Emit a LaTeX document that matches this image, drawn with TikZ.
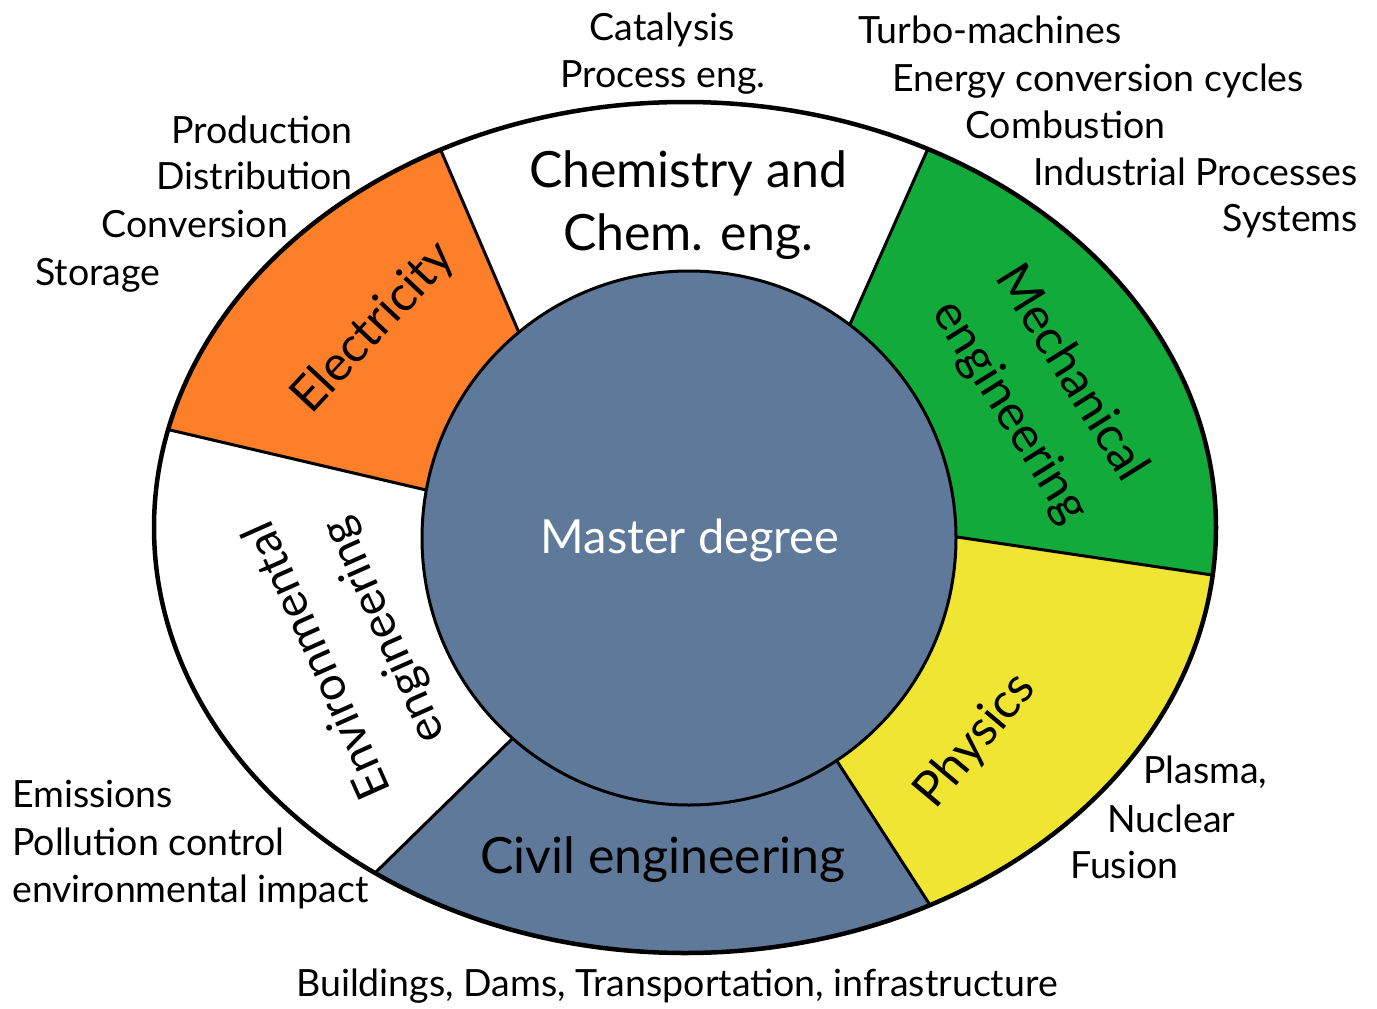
\documentclass[tikz,border=0pt]{standalone}
\usepackage{fontspec}
\setmainfont{Lato}
\usetikzlibrary{calc}
\definecolor{elec}{RGB}{254,127,42}
\definecolor{mech}{RGB}{18,170,58}
\definecolor{phys}{RGB}{241,229,52}
\definecolor{slate}{RGB}{94,121,153}
\tikzset{
  small/.style={font=\fontsize{37.5}{45}\selectfont, inner sep=0pt},
  big/.style={font=\fontsize{50}{63}\selectfont, inner sep=0pt},
  ring/.style={font=\fontsize{49}{72}\selectfont, inner sep=0pt, align=center},
  segline/.style={line width=3pt},
}
\begin{document}
\begin{tikzpicture}[x=1pt,y=-1pt]
\useasboundingbox (0,0) rectangle (1377,1009);
\coordinate (C) at (689,538);
\coordinate (E) at (685,527.5);
% boundary points: inner (on circle) and outer (on ellipse)
\coordinate (A1) at (517,328); \coordinate (B1) at (442,153);
\coordinate (A2) at (851,322); \coordinate (B2) at (926,153);
\coordinate (A3) at (957,537); \coordinate (B3) at (1212,575);
\coordinate (A4) at (835,758); \coordinate (B4) at (930,905);
\coordinate (A5) at (513,738); \coordinate (B5) at (376,872);
\coordinate (A6) at (426,490); \coordinate (B6) at (170,430);
\foreach \i in {1,...,6}{
  \coordinate (X\i) at ($(A\i)!1.6!(B\i)$);
  \coordinate (I\i) at ($(B\i)!1.1!(A\i)$);
}
\fill[white] (E) ellipse [x radius=531, y radius=425.5];
\begin{scope}
  \clip (E) ellipse [x radius=531, y radius=425.5];
  \fill[elec] (C) -- (A1) -- (X1) -- (150,60) -- (X6) -- (A6) -- cycle;
  \fill[mech] (C) -- (A2) -- (X2) -- (1300,60) -- (X3) -- (A3) -- cycle;
  \fill[phys] (C) -- (A3) -- (X3) -- (1360,1000) -- (X4) -- (A4) -- cycle;
  \fill[slate] (C) -- (A4) -- (X4) -- (990,1080) -- (290,1080) -- (X5) -- (A5) -- cycle;
  \foreach \i in {1,...,6}{
    \draw[segline] (I\i) -- (X\i);
  }
\end{scope}
\draw[line width=3pt, fill=slate] (C) circle [radius=267];
\draw[line width=4.5pt] (E) ellipse [x radius=531, y radius=425.5];

% ring labels
\node[big, anchor=base] (chem1) at (688,187) {Chemistry and};
\node[big, anchor=base] (chem2) at (688,250) {Chem. eng.};
\node[ring, rotate=47] (elecl) at (374,328) {Electricity};
\node[ring, rotate=-58] (mechl) at (1040,393) {Mechanical\\engineering};
\node[ring, rotate=50] (physl) at (976,741) {Physics};
\node[ring, rotate=114, font=\fontsize{47}{72}\selectfont] (envl) at (352,645) {Environmental\\engineering};
\node[big, anchor=base] (civl) at (663,873) {Civil engineering};
\node[font=\fontsize{47}{56}\selectfont, inner sep=0pt, anchor=base, text=white] (master) at (690,553) {Master degree};

% outer labels
\node[small, anchor=base] (cat) at (662,40) {Catalysis};
\node[small, anchor=base] (proc) at (663,87) {Process eng.};

\node[small, anchor=base west] (turbo) at (858,43) {Turbo-machines};
\node[small, anchor=base west] (ecc) at (892,91) {Energy conversion cycles};
\node[small, anchor=base west] (comb) at (965,138) {Combustion};
\node[small, anchor=base east] (indp) at (1358,185) {Industrial Processes};
\node[small, anchor=base east] (sys) at (1358,231) {Systems};

\node[small, anchor=base east] (prod) at (353,143) {Production};
\node[small, anchor=base east] (dist) at (353,189) {Distribution};
\node[small, anchor=base] (conv) at (195,237) {Conversion};
\node[small, anchor=base] (stor) at (98,285) {Storage};

\node[small, anchor=base west] (emis) at (12,807) {Emissions};
\node[small, anchor=base west] (poll) at (12,855) {Pollution control};
\node[small, anchor=base west] (envi) at (12,902) {environmental impact};

\node[small, anchor=base west] (plas) at (1143,783) {Plasma,};
\node[small, anchor=base west] (nucl) at (1107,832) {Nuclear};
\node[small, anchor=base west] (fus) at (1070,878) {Fusion};

\node[small, anchor=base] (build) at (677,996) {Buildings, Dams, Transportation, infrastructure};
\end{tikzpicture}
\end{document}
